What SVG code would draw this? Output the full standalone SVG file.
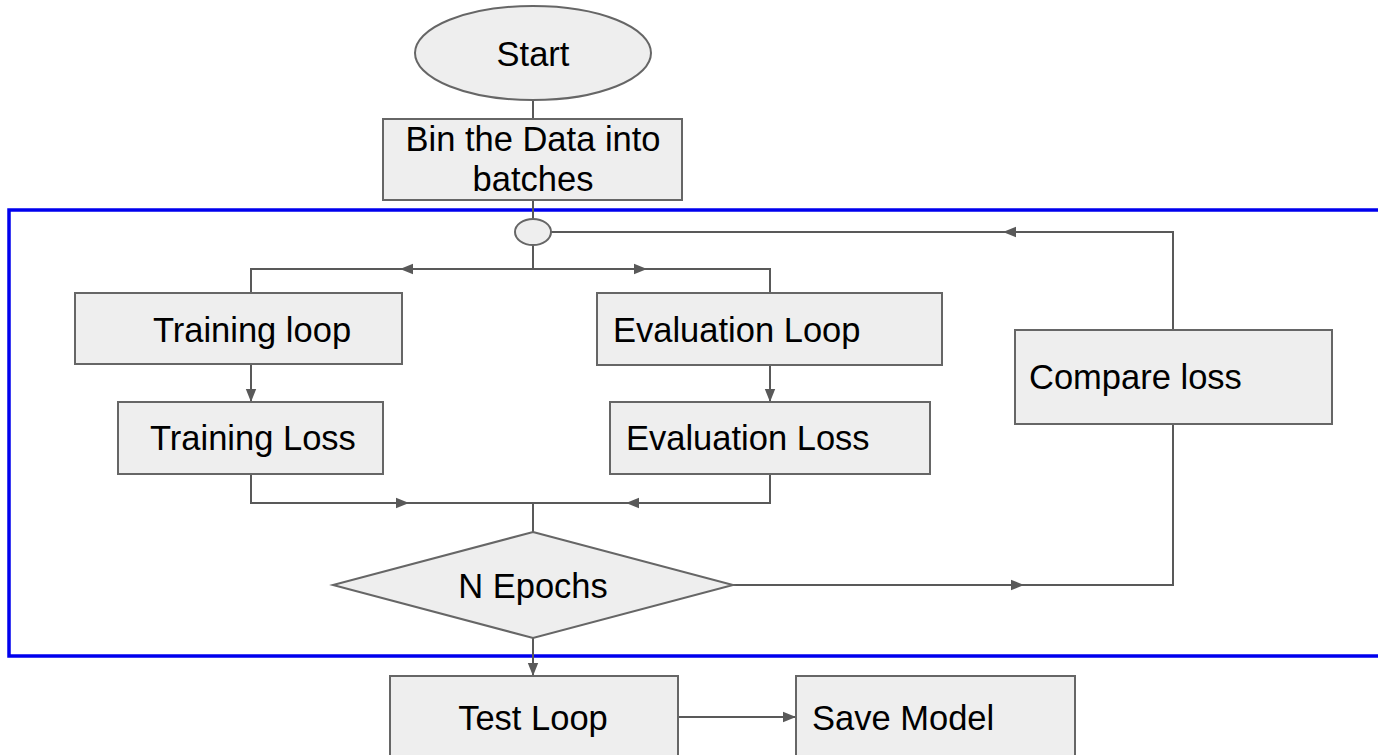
<svg xmlns="http://www.w3.org/2000/svg" width="1378" height="755" viewBox="0 0 1378 755">
<style>
.box{fill:#eeeeee;stroke:#666666;stroke-width:2}
.ln{fill:none;stroke:#595959;stroke-width:2}
.t{font-family:"Liberation Sans",Arial,sans-serif;font-size:34.5px;fill:#000}
.c{text-anchor:middle}
</style>
<defs>
<marker id="ah" viewBox="0 0 10 10" refX="10" refY="5" markerWidth="13" markerHeight="13" markerUnits="userSpaceOnUse" orient="auto">
<path d="M0,1 L10,5 L0,9 Z" fill="#595959"/>
</marker>
</defs>
<rect width="1378" height="755" fill="#ffffff"/>
<g id="loop-frame">
<rect x="9" y="210" width="1390" height="446" fill="none" stroke="#0000ee" stroke-width="3.5"/>
</g>
<g id="connectors">
<path class="ln" d="M533,100 V119"/>
<path class="ln" d="M533,200 V219"/>
<path class="ln" d="M533,245 V269"/>
<path class="ln" d="M533,269 H400" marker-end="url(#ah)"/>
<path class="ln" d="M400,269 H251 V293"/>
<path class="ln" d="M533,269 H647" marker-end="url(#ah)"/>
<path class="ln" d="M647,269 H770 V293"/>
<path class="ln" d="M251,364 V402" marker-end="url(#ah)"/>
<path class="ln" d="M770,365 V402" marker-end="url(#ah)"/>
<path class="ln" d="M251,474 V503 H409" marker-end="url(#ah)"/>
<path class="ln" d="M409,503 H533"/>
<path class="ln" d="M770,474 V503 H626" marker-end="url(#ah)"/>
<path class="ln" d="M626,503 H533 V532"/>
<path class="ln" d="M733,585 H1024" marker-end="url(#ah)"/>
<path class="ln" d="M1024,585 H1173 V232 H1003" marker-end="url(#ah)"/>
<path class="ln" d="M1003,232 H551"/>
<path class="ln" d="M533,638 V676" marker-end="url(#ah)"/>
<path class="ln" d="M678,717 H796" marker-end="url(#ah)"/>
</g>
<g id="start">
<ellipse class="box" cx="533" cy="53" rx="118" ry="47"/>
<text class="t c" x="533" y="66">Start</text>
</g>
<g id="bin">
<rect class="box" x="383" y="119" width="299" height="81"/>
<text class="t c" x="533" y="151">Bin the Data into</text>
<text class="t c" x="533" y="191">batches</text>
</g>
<g id="junction">
<ellipse class="box" cx="533" cy="232" rx="18" ry="13"/>
</g>
<g id="training-loop">
<rect class="box" x="75" y="293" width="327" height="71"/>
<text class="t c" x="252" y="342">Training loop</text>
</g>
<g id="evaluation-loop">
<rect class="box" x="597" y="293" width="345" height="72"/>
<text class="t" x="613" y="342">Evaluation Loop</text>
</g>
<g id="training-loss">
<rect class="box" x="118" y="402" width="265" height="72"/>
<text class="t" x="150" y="450">Training Loss</text>
</g>
<g id="evaluation-loss">
<rect class="box" x="610" y="402" width="320" height="72"/>
<text class="t" x="626" y="450">Evaluation Loss</text>
</g>
<g id="n-epochs">
<polygon class="box" points="533,532 733,585 533,638 333,585"/>
<text class="t c" x="533" y="598">N Epochs</text>
</g>
<g id="compare-loss">
<rect class="box" x="1015" y="330" width="317" height="94"/>
<text class="t" x="1029" y="389">Compare loss</text>
</g>
<g id="test-loop">
<rect class="box" x="390" y="676" width="288" height="90"/>
<text class="t c" x="533" y="730">Test Loop</text>
</g>
<g id="save-model">
<rect class="box" x="796" y="676" width="279" height="90"/>
<text class="t" x="812" y="730">Save Model</text>
</g>
</svg>
